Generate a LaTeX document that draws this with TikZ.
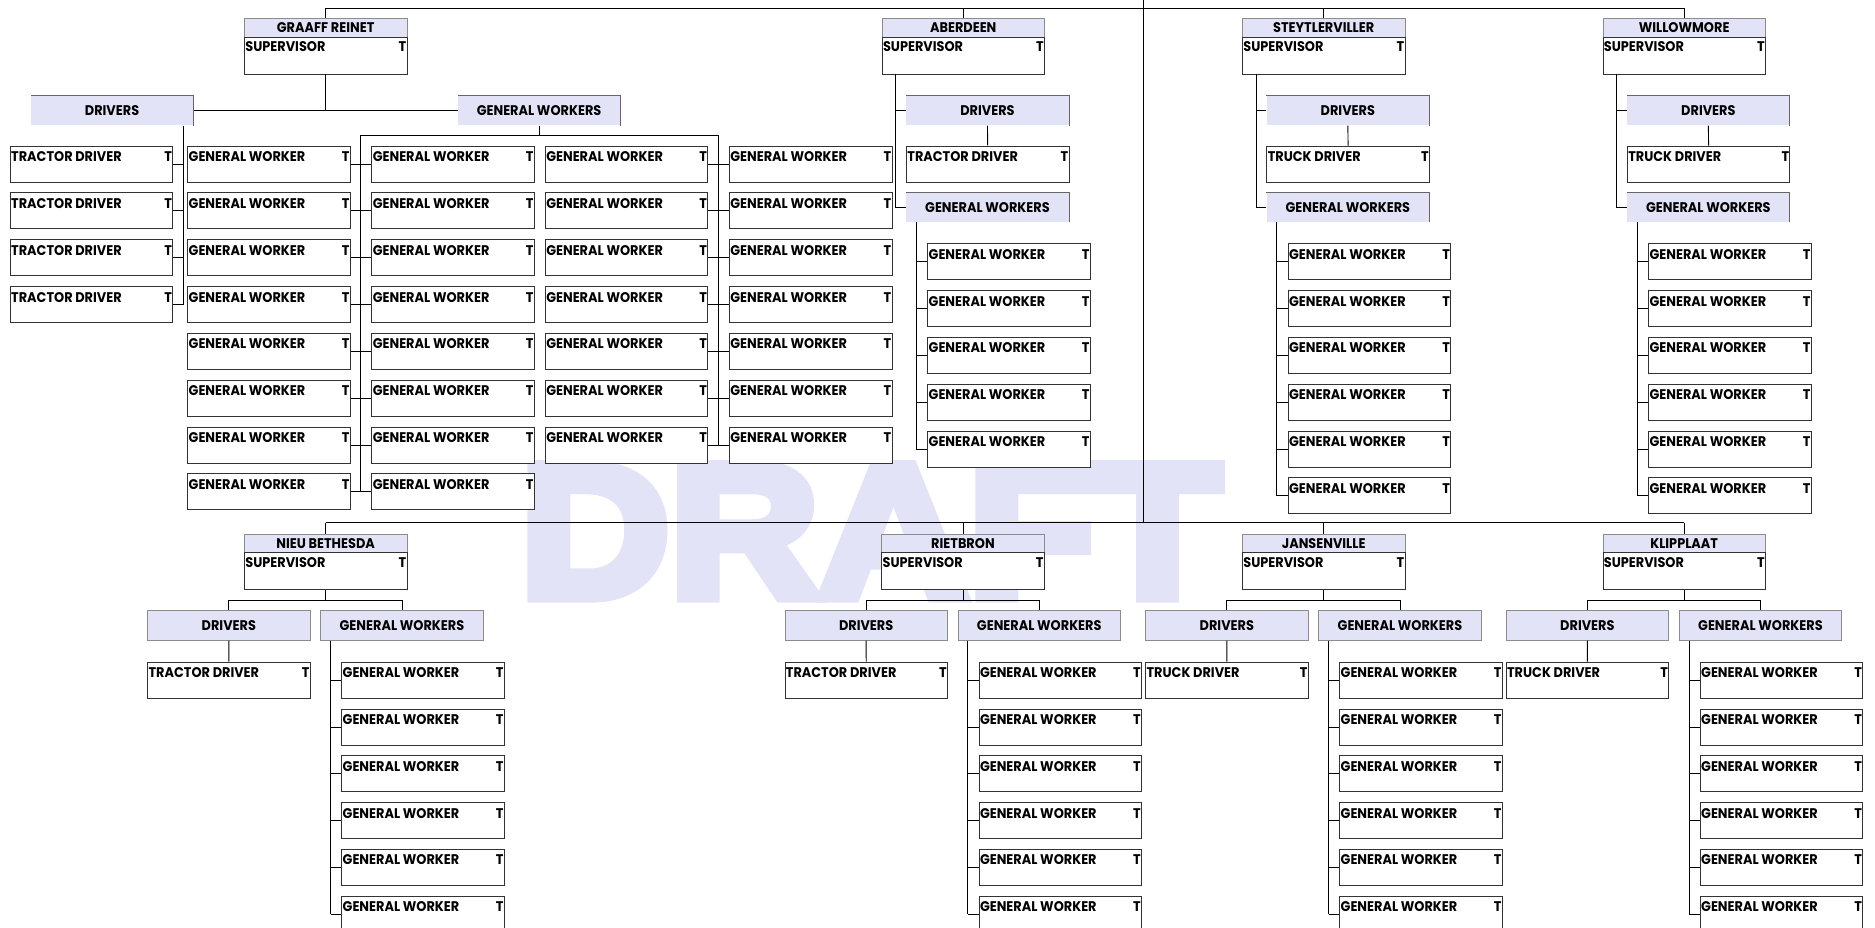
\documentclass[tikz,border=0pt]{standalone}
\usepackage{fontspec}
\setmainfont{Poppins}[FakeStretch=0.92]
\newfontfamily\wmfont{Liberation Sans}[FakeBold=7,FakeStretch=1.1]
\definecolor{hdr}{HTML}{E3E3F7}
\definecolor{wmc}{HTML}{E3E3F7}
\newcommand\orgfont{\fontsize{14}{16}\selectfont\bfseries}
\tikzset{
  conn/.style={draw=black, line width=0.9pt},
  boxbase/.style={rectangle, draw=black!80, line width=0.9pt, fill=white, inner sep=0pt,
    minimum width=162.5pt, anchor=north west},
  wbox/.style={boxbase, minimum height=36pt},
  sbox/.style={boxbase, minimum height=37pt},
  lt/.style={anchor=base west, inner sep=0pt, xshift=1.2pt, yshift=-16pt, font=\orgfont},
  rt/.style={anchor=base east, inner sep=0pt, xshift=-1pt, yshift=-16pt, font=\orgfont},
  lbl/.style={label={[lt]north west:#1}, label={[rt]north east:T}},
  slbl/.style={label={[lt,yshift=1pt]north west:#1}, label={[rt,yshift=1pt]north east:T}},
  ttl/.style={rectangle, draw=black!45, fill=hdr, line width=0.8pt, inner sep=0pt,
    minimum width=162.5pt, minimum height=18.3pt, anchor=north west, font=\orgfont,
    text height=9.8pt, text depth=0pt},
  hdrA/.style={rectangle, fill=hdr, inner sep=0pt, minimum width=162.5pt,
    minimum height=29.5pt, anchor=north west, font=\orgfont, text height=9.8pt, text depth=0pt},
  hdrB/.style={hdrA, draw=black!45, line width=0.8pt},
}
\begin{document}
\begin{tikzpicture}[x=1pt,y=-1pt]
\useasboundingbox (0,0) rectangle (1875,928);
% watermark
\node[anchor=base west, inner sep=0pt, text=wmc,
  font=\wmfont\bfseries\fontsize{188}{188}\selectfont] (wmk) at (520,596) {DRAFT};

% root connector
\coordinate (root) at (1143,0);
\coordinate (rootb) at (1143,522.6);
\draw[conn] (root) -- (rootb);

% ---------- top section ----------
\coordinate (topY) at (0,8.5);
\foreach \id/\L/\name in {gr/244/GRAAFF REINET, ab/881.6/ABERDEEN, st/1242/STEYTLERVILLER, wi/1602.5/WILLOWMORE} {
  \node[ttl] (\id-t) at (\L,18.3) {\name};
  \node[sbox, slbl=SUPERVISOR] (\id-s) at (\L,36.6) {};
  \draw[conn] (\id-t.north) -- (\id-t.north |- topY);
}
\draw[conn] (gr-t.north |- topY) -- (wi-t.north |- topY);

% GRAAFF REINET
\node[hdrA] (gr-d) at (30.6,95.7) {DRIVERS};
\node[hdrA] (gr-g) at (457.6,95.7) {GENERAL WORKERS};
\draw[black!60, line width=0.8pt] (gr-d.south east) -- (gr-d.north east) -- (gr-d.north west);
\draw[black!60, line width=0.8pt] (gr-g.south east) -- (gr-g.north east) -- (gr-g.north west);
\draw[conn] (gr-s.south) -- (gr-s.south |- gr-d.east);
\draw[conn] (gr-d.east) -- (gr-g.west);
\foreach \k in {0,...,3}
  \node[wbox, lbl=TRACTOR DRIVER] (gr-d\k) at (9.8,{145.7+\k*46.8}) {};
\coordinate (gr-dx) at (183.3,0);
\draw[conn] (gr-d.south -| gr-dx) -- (gr-dx |- gr-d3.east);
\foreach \k in {0,...,3}
  \draw[conn] (gr-d\k.east) -- (gr-dx |- gr-d\k.east);
\foreach \k in {0,...,7} {
  \node[wbox, lbl=GENERAL WORKER] (gr-a\k) at (187.3,{145.7+\k*46.8}) {};
  \node[wbox, lbl=GENERAL WORKER] (gr-b\k) at (371.4,{145.7+\k*46.8}) {};
  \draw[conn] (gr-a\k.east) -- (gr-b\k.west);
}
\foreach \k in {0,...,6} {
  \node[wbox, lbl=GENERAL WORKER] (gr-c\k) at (544.9,{145.7+\k*46.8}) {};
  \node[wbox, lbl=GENERAL WORKER] (gr-e\k) at (729,{145.7+\k*46.8}) {};
  \draw[conn] (gr-c\k.east) -- (gr-e\k.west);
}
\coordinate (gr-x1) at (360.6,135);
\coordinate (gr-x2) at (718.2,135);
\draw[conn] (gr-g.south) -- (gr-g.south |- gr-x1);
\draw[conn] (gr-x1) -- (gr-x2);
\draw[conn] (gr-x1) -- (gr-x1 |- gr-a7.east);
\draw[conn] (gr-x2) -- (gr-x2 |- gr-c6.east);

% ABERDEEN, STEYTLERVILLER, WILLOWMORE
\foreach \id/\L/\drv/\n in {ab/881.6/TRACTOR DRIVER/4, st/1242/TRUCK DRIVER/5, wi/1602.5/TRUCK DRIVER/5} {
  \node[hdrA] (\id-d) at ({\L+24.4},95.7) {DRIVERS};
  \draw[black!60, line width=0.8pt] (\id-d.south east) -- (\id-d.north east) -- (\id-d.north west);
  \node[wbox, lbl=\drv] (\id-d0) at ({\L+24.4},145.7) {};
  \node[hdrA] (\id-g) at ({\L+24.4},192.3) {GENERAL WORKERS};
  \draw[black!60, line width=0.8pt] (\id-g.south east) -- (\id-g.north east) -- (\id-g.north west);
  \coordinate (\id-x) at ({\L+14},0);
  \draw[conn] (\id-s.south -| \id-x) -- (\id-x |- \id-g.west) -- (\id-g.west);
  \draw[conn] (\id-x |- \id-d.west) -- (\id-d.west);
  \draw[conn] (\id-d.south) -- (\id-d0.north);
  \coordinate (\id-y) at ({\L+34.7},0);
  \foreach \k in {0,...,\n} {
    \node[wbox, lbl=GENERAL WORKER] (\id-w\k) at ({\L+45.7},{243.3+\k*46.8}) {};
    \draw[conn] (\id-y |- \id-w\k.west) -- (\id-w\k.west);
  }
  \draw[conn] (\id-g.south -| \id-y) -- (\id-y |- \id-w\n.west);
}

% ---------- bottom section ----------
\coordinate (botY) at (0,522.6);
\coordinate (botJ) at (0,600.3);
\foreach \id/\L/\name/\drv in {ni/244/NIEU BETHESDA/TRACTOR DRIVER, ri/881.3/RIETBRON/TRACTOR DRIVER, ja/1242/JANSENVILLE/TRUCK DRIVER, kl/1602.5/KLIPPLAAT/TRUCK DRIVER} {
  \node[ttl] (\id-t) at (\L,534) {\name};
  \node[sbox, slbl=SUPERVISOR] (\id-s) at (\L,552.3) {};
  \draw[conn] (\id-t.north) -- (\id-t.north |- botY);
  \node[hdrB] (\id-d) at ({\L-96.8},610.3) {DRIVERS};
  \node[hdrB] (\id-g) at ({\L+76.3},610.3) {GENERAL WORKERS};
  \draw[conn] (\id-s.south) -- (\id-s.south |- botJ);
  \draw[conn] (\id-d.north) -- (\id-d.north |- botJ) -- (\id-g.north |- botJ) -- (\id-g.north);
  \node[wbox, lbl=\drv] (\id-d0) at ({\L-96.8},661.7) {};
  \draw[conn] (\id-d.south) -- (\id-d0.north);
  \coordinate (\id-y) at ({\L+86.5},0);
  \foreach \k in {0,...,5} {
    \node[wbox, lbl=GENERAL WORKER] (\id-w\k) at ({\L+97.3},{661.7+\k*46.8}) {};
    \draw[conn] (\id-y |- \id-w\k.west) -- (\id-w\k.west);
  }
  \draw[conn] (\id-g.south -| \id-y) -- (\id-y |- \id-w5.west);
}
\draw[conn] (ni-t.north |- botY) -- (kl-t.north |- botY);
\end{tikzpicture}
\end{document}
